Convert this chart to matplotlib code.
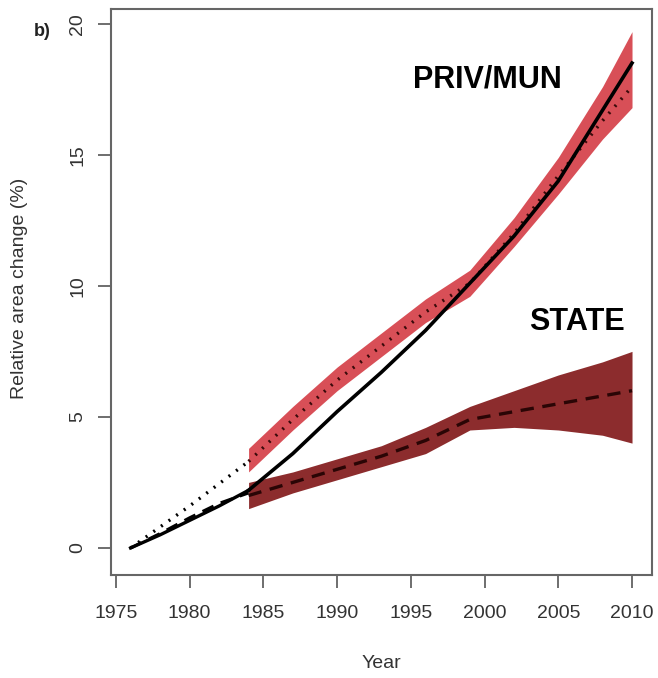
import matplotlib
matplotlib.use("Agg")
import matplotlib.pyplot as plt

# trend lines from the start year up to 1984
years_early = [1976, 1978, 1980, 1982, 1984]
total_early = [0.0, 0.5, 1.05, 1.6, 2.2]
priv_early = [0.0, 0.8, 1.6, 2.45, 3.3]
state_early = [0.0, 0.55, 1.15, 1.7, 2.1]

# modelled period with confidence bands
years = [1984, 1987, 1990, 1993, 1996, 1999, 2002, 2005, 2008, 2010]
total = [2.2, 3.6, 5.2, 6.7, 8.3, 10.1, 11.9, 14.0, 16.7, 18.5]
priv_mid = [3.3, 4.9, 6.4, 7.7, 9.0, 10.1, 12.0, 14.2, 16.3, 17.6]
priv_lo = [2.9, 4.5, 6.0, 7.3, 8.6, 9.6, 11.5, 13.5, 15.6, 16.8]
priv_hi = [3.8, 5.4, 6.9, 8.2, 9.5, 10.6, 12.6, 14.9, 17.6, 19.7]
state_mid = [2.0, 2.5, 3.0, 3.5, 4.1, 4.9, 5.2, 5.5, 5.8, 6.0]
state_lo = [1.5, 2.1, 2.6, 3.1, 3.6, 4.5, 4.6, 4.5, 4.3, 4.0]
state_hi = [2.5, 2.9, 3.4, 3.9, 4.6, 5.4, 6.0, 6.6, 7.1, 7.5]

xticks = [1975, 1980, 1985, 1990, 1995, 2000, 2005, 2010]
yticks = [0, 5, 10, 15, 20]

plt.rcParams['font.family'] = ['Liberation Sans', 'DejaVu Sans']

fig = plt.figure(figsize=(6.58, 6.78), dpi=100)
ax = fig.add_axes([0.168, 0.152, 0.823, 0.835])

priv_col = '#d84f57'
state_col = '#8c2c2d'

ax.fill_between(years, priv_lo, priv_hi, color=priv_col, lw=0, zorder=1)
ax.fill_between(years, state_lo, state_hi, color=state_col, lw=0, zorder=1)

dot = (0, (0.6, 2.2))
dash = (0, (4, 2.6))
ax.plot(years_early, priv_early, color='black', lw=2.4, ls=dot, zorder=3)
ax.plot(years, priv_mid, color='#3a0a0a', lw=2.4, ls=dot, zorder=3)
ax.plot(years_early, state_early, color='black', lw=2.2, ls=dash, zorder=3)
ax.plot(years, state_mid, color='#2a0505', lw=2.4, ls=dash, zorder=3)
ax.plot(years_early, total_early, color='black', lw=2.4, zorder=4)
ax.plot(years, total, color='black', lw=2.6, zorder=4)

ax.set_xlim(1974.64, 2011.36)
ax.set_ylim(-1.03, 20.57)
ax.set_xticks(xticks)
ax.set_yticks(yticks)
ax.set_yticklabels([str(v) for v in yticks], rotation=90, va='center')
ax.tick_params(axis='both', length=9.5, width=1.2, color='#555555',
               labelsize=14, labelcolor='#333333')
ax.tick_params(axis='x', pad=12)
ax.tick_params(axis='y', pad=8)
for s in ax.spines.values():
    s.set_color('#666666')
    s.set_linewidth(1.5)

ax.text(2000.2, 17.86, 'PRIV/MUN', fontsize=22, fontweight='bold',
        ha='center', va='center')
ax.text(2006.25, 8.63, 'STATE', fontsize=22, fontweight='bold',
        ha='center', va='center')

fig.text(381 / 658, 1 - 664 / 678, 'Year', fontsize=14, color='#333333',
         ha='center', va='center')
fig.text(20 / 658, 1 - 288 / 678, 'Relative area change (%)', fontsize=14,
         color='#333333', rotation=90, ha='center', va='center')
fig.text(42 / 658, 1 - 31 / 678, 'b)', fontsize=13, fontweight='bold',
         color='#222222', ha='center', va='center')

fig.savefig('out.png', dpi=100)
